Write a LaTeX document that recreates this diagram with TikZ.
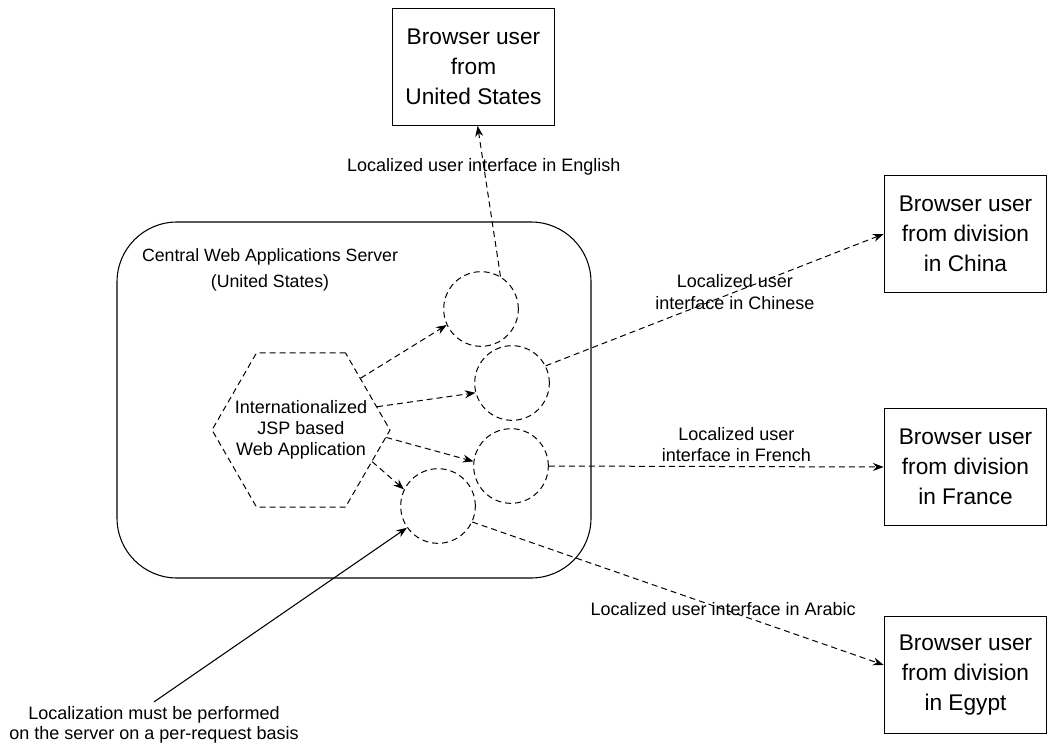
\documentclass[tikz,border=0pt]{standalone}
\usepackage{fontspec}
\setmainfont{Liberation Sans}
\usetikzlibrary{arrows.meta,shapes.geometric}

\begin{document}
\begin{tikzpicture}[x=0.75pt,y=-0.75pt,
  >={Stealth[length=8pt,width=6pt]},
  userbox/.style={rectangle,draw,line width=0.8pt,minimum width=122pt,minimum height=87.5pt,
                  align=center,font=\fontsize{17}{22.5}\selectfont},
  server/.style={rectangle,draw,line width=0.8pt,rounded corners=45pt,
                 minimum width=355.5pt,minimum height=267pt},
  app/.style={regular polygon,regular polygon sides=6,draw,dash pattern=on 4.5pt off 3pt,
              line width=0.75pt,inner sep=0pt,minimum size=133.5pt},
  locale/.style={circle,draw,dash pattern=on 4.5pt off 3pt,line width=0.75pt,minimum size=56pt},
  lbl/.style={align=center,font=\fontsize{13.5}{16}\selectfont},
  flow/.style={->,dash pattern=on 4.5pt off 3pt,line width=0.75pt},
  hint/.style={->,line width=0.8pt},
]
  \useasboundingbox (0,0) rectangle (1048,745);

  % users
  \node[userbox] (us)     at (473.5,67)  {Browser user\\from\\United States};
  \node[userbox] (china)  at (965.5,234) {Browser user\\from division\\in China};
  \node[userbox] (france) at (965.5,467) {Browser user\\from division\\in France};
  \node[userbox] (egypt)  at (965.5,675) {Browser user\\from division\\in Egypt};

  % server
  \node[server] (srv) at (354,400) {};
  \node[align=center,font=\fontsize{13.3}{19}\selectfont] (title) at (270,270)
    {Central Web Applications Server\\(United States)};
  \node[app] (jsp) at (301,430) {};
  \node[lbl,font=\fontsize{13.5}{15.75}\selectfont] (jsptext) at (jsp)
    {Internationalized\\JSP based\\Web Application};

  % localized views
  \node[locale] (c1) at (481,309) {};
  \node[locale] (c2) at (512,383) {};
  \node[locale] (c3) at (511,466) {};
  \node[locale] (c4) at (438,506) {};

  % application -> views
  \draw[flow] (jsp.41)  -- (c1.205);
  \draw[flow] (jsp.17)  -- (c2.195);
  \draw[flow] (jsp.355) -- (c3.173);
  \draw[flow] (jsp.336) -- (c4.154);

  % views -> users
  \draw[flow] (c1.59) -- node[lbl,pos=0.73]{Localized user interface in English} (us.274);
  \draw[flow] (c2.27) -- node[lbl,pos=0.56]{Localized user\\interface in Chinese} (china.west);
  \draw[flow] (c3.east) -- node[lbl,above,pos=0.56]{Localized user\\interface in French} (france.west);
  \draw[flow] (c4.335) -- node[lbl,pos=0.61]{Localized user interface in Arabic} (egypt.173);

  % note
  \node[lbl,font=\fontsize{13.5}{15}\selectfont] (note) at (154,725)
    {Localization must be performed\\on the server on a per-request basis};
  \draw[hint] (note.north) -- (c4.215);
\end{tikzpicture}
\end{document}
